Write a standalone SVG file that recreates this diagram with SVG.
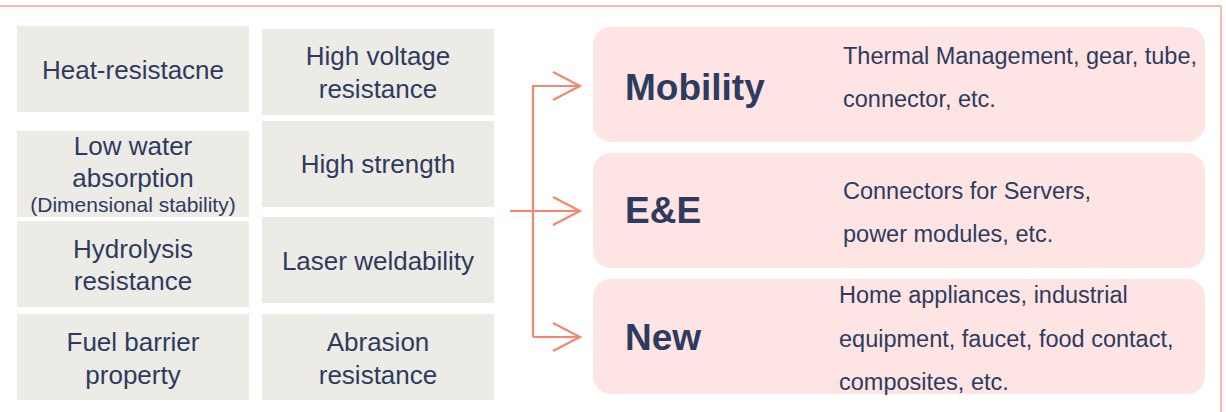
<svg xmlns="http://www.w3.org/2000/svg" width="1226" height="412" viewBox="0 0 1226 412">
<style>
.prop rect{fill:#edebe6}
.prop text{font-family:"Liberation Sans",Arial,sans-serif;font-size:26px;fill:#2e3b60;text-anchor:middle}
.prop text.small{font-size:21px}
.app rect{fill:#fee5e3}
.app text.title{font-family:"Liberation Sans",Arial,sans-serif;font-size:37px;font-weight:bold;fill:#2e3b60}
.app text.desc{font-family:"Liberation Sans",Arial,sans-serif;font-size:23.5px;fill:#2e3b60}
.conn{fill:none;stroke:#f7866e;stroke-width:2.2}
</style>
<path d="M0,6 H1221 V412" fill="none" stroke="#fbb9b1" stroke-width="2"/>
<g id="heat" class="prop"><rect x="17" y="26" width="232" height="86"/><text x="133" y="79">Heat-resistacne</text></g>
<g id="voltage" class="prop"><rect x="262" y="29" width="232" height="86"/><text x="378" y="65">High voltage</text><text x="378" y="98">resistance</text></g>
<g id="water" class="prop"><rect x="17" y="131" width="232" height="86"/><text x="133" y="155">Low water</text><text x="133" y="187">absorption</text><text class="small" x="133" y="212">(Dimensional stability)</text></g>
<g id="strength" class="prop"><rect x="262" y="121" width="232" height="86"/><text x="378" y="173">High strength</text></g>
<g id="hydrolysis" class="prop"><rect x="17" y="221" width="232" height="86"/><text x="133" y="258">Hydrolysis</text><text x="133" y="290">resistance</text></g>
<g id="laser" class="prop"><rect x="262" y="217" width="232" height="86"/><text x="378" y="270">Laser weldability</text></g>
<g id="fuel" class="prop"><rect x="17" y="314" width="232" height="86"/><text x="133" y="351">Fuel barrier</text><text x="133" y="384">property</text></g>
<g id="abrasion" class="prop"><rect x="262" y="314" width="232" height="86"/><text x="378" y="351">Abrasion</text><text x="378" y="384">resistance</text></g>
<g id="connectors">
<path class="conn" d="M533,337 V86 H579 M510,211 H579 M533,337 H579"/>
<path class="conn" d="M553,72 L580,86 L553,100 M553,197 L580,211 L553,225 M553,323 L580,337 L553,351"/>
</g>
<g id="mobility" class="app"><rect x="593" y="27" width="612" height="115" rx="18"/><text class="title" x="625" y="100">Mobility</text><text class="desc" x="843" y="64">Thermal Management, gear, tube,</text><text class="desc" x="843" y="107">connector, etc.</text></g>
<g id="ee" class="app"><rect x="593" y="153" width="612" height="115" rx="18"/><text class="title" x="625" y="223">E&amp;E</text><text class="desc" x="843" y="199">Connectors for Servers,</text><text class="desc" x="843" y="242">power modules, etc.</text></g>
<g id="new" class="app"><rect x="593" y="279" width="612" height="115" rx="18"/><text class="title" x="625" y="350">New</text><text class="desc" x="839" y="303">Home appliances, industrial</text><text class="desc" x="839" y="347">equipment, faucet, food contact,</text><text class="desc" x="839" y="390">composites, etc.</text></g>
</svg>
